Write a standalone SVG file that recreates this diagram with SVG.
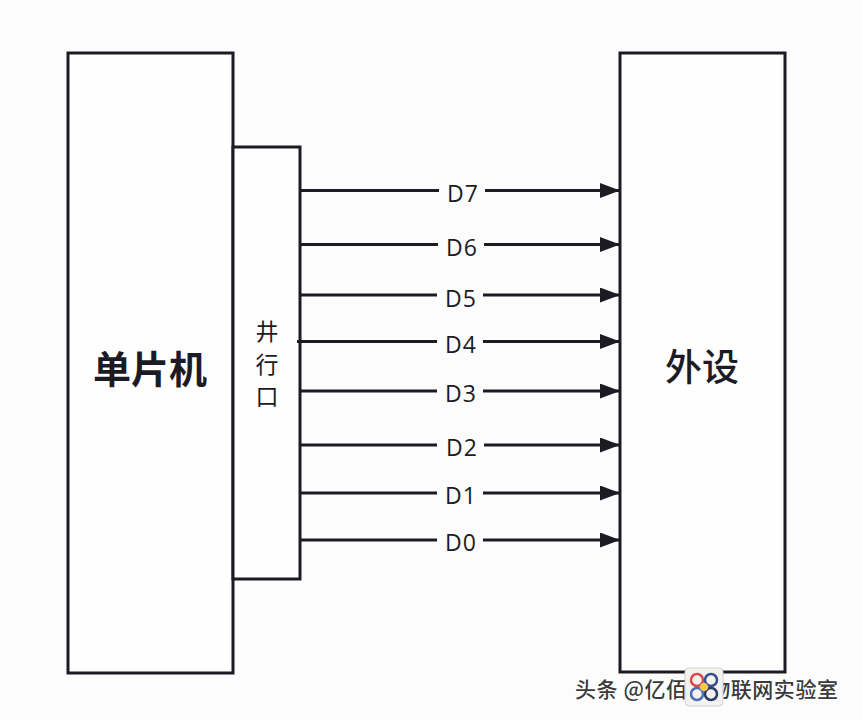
<svg xmlns="http://www.w3.org/2000/svg" width="862" height="720" viewBox="0 0 862 720">
  <defs>
    <style>
      .box { fill: #fefefe; stroke: #1c1b24; stroke-width: 3; }
      .wire { fill: none; stroke: #1c1b24; stroke-width: 3; marker-end: url(#arrow); }
      .sig { font-family: "Open Sans", "Liberation Sans", sans-serif; font-size: 23px; letter-spacing: 1px; fill: #1c1b24; text-anchor: middle; }
      .cn { font-family: "Noto Sans CJK SC", sans-serif; fill: #1c1b24; text-anchor: middle; dominant-baseline: central; }
      .wm { font-family: "Noto Sans CJK SC", sans-serif; font-size: 21px; font-weight: 500; fill: #3a3a3a; stroke: #ffffff; stroke-width: 2.5; paint-order: stroke; }
    </style>
    <marker id="arrow" viewBox="0 0 20 15" refX="20" refY="7.5" markerWidth="20" markerHeight="15" markerUnits="userSpaceOnUse" orient="auto">
      <path d="M0,0 L20,7.5 L0,15 Z" fill="#1c1b24"/>
    </marker>
  </defs>
  <rect width="862" height="720" fill="#fcfcfd"/>

  <g id="mcu">
    <rect class="box" x="68" y="53" width="165" height="620"/>
    <text class="cn" x="150" y="366" font-size="38" font-weight="700">单片机</text>
  </g>

  <g id="port">
    <rect class="box" x="233" y="147" width="67" height="432"/>
    <text class="cn" x="267" y="330" font-size="23">井</text>
    <text class="cn" x="267" y="363" font-size="23">行</text>
    <text class="cn" x="267" y="395" font-size="23">口</text>
  </g>

  <g id="peripheral">
    <rect class="box" x="620" y="53" width="165" height="619"/>
    <text class="cn" x="702" y="365" font-size="37" font-weight="500">外设</text>
  </g>

  <g id="connectors">
    <path class="wire" d="M300,190.5 H439 M485,190.5 H620"/>
    <path class="wire" d="M300,244.5 H438 M484,244.5 H620"/>
    <path class="wire" d="M300,295 H437 M483,295 H620"/>
    <path class="wire" d="M297,341.5 H437 M483,341.5 H620"/>
    <path class="wire" d="M300,391 H437 M483,391 H620"/>
    <path class="wire" d="M300,445 H437 M484,445 H620"/>
    <path class="wire" d="M300,493 H437 M483,493 H620"/>
    <path class="wire" d="M300,540 H437 M483,540 H620"/>
  </g>

  <g id="labels">
    <text class="sig" x="463" y="202">D7</text>
    <text class="sig" x="462" y="256">D6</text>
    <text class="sig" x="461" y="307">D5</text>
    <text class="sig" x="461" y="353">D4</text>
    <text class="sig" x="461" y="402">D3</text>
    <text class="sig" x="462" y="456">D2</text>
    <text class="sig" x="461" y="504">D1</text>
    <text class="sig" x="461" y="551">D0</text>
  </g>

  <g id="watermark">
    <text class="wm" x="575" y="697" textLength="263" lengthAdjust="spacing">头条 @亿佰特物联网实验室</text>
    <rect x="685" y="668" width="38" height="38" rx="4" fill="#f4f2ee" stroke="#d0d0d0" stroke-width="1"/>
    <circle cx="697" cy="680" r="6" fill="none" stroke="#d94a4a" stroke-width="2.5"/>
    <circle cx="711" cy="680" r="6" fill="none" stroke="#3a4f8f" stroke-width="2.5"/>
    <circle cx="697" cy="694" r="6" fill="none" stroke="#4a6fb5" stroke-width="2.5"/>
    <circle cx="711" cy="694" r="6" fill="none" stroke="#2a3a6a" stroke-width="2.5"/>
    <circle cx="704" cy="687" r="4" fill="#f2c94c"/>
  </g>
</svg>
